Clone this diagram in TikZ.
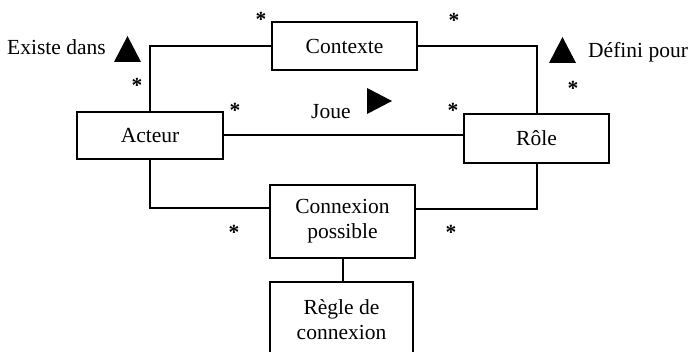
\documentclass[tikz,border=0pt]{standalone}
\usepackage{fontspec}
\setmainfont{Liberation Serif}
\usetikzlibrary{calc}
\begin{document}
\begin{tikzpicture}[x=1pt,y=-1pt,
  box/.style={draw=black,line width=2.1pt,fill=white,inner sep=2pt,align=center,
    font=\fontsize{21.5}{25}\selectfont},
  link/.style={draw=black,line width=2pt},
  lbl/.style={inner sep=0pt,font=\fontsize{21.5}{25}\selectfont},
  star/.style={inner sep=0pt,anchor=base,font=\fontsize{21.5}{25}\selectfont\bfseries}]
\useasboundingbox (0,0) rectangle (690,352);
\clip (0,0) rectangle (690,352);
% boxes
\node[box,minimum width=145pt,minimum height=48pt] (ctx) at (344.5,46) {Contexte};
\node[box,minimum width=146pt,minimum height=47pt] (act) at (150,135.5) {Acteur};
\node[box,minimum width=145pt,minimum height=49pt] (role) at (536.5,138.5) {Rôle};
\node[box,minimum width=145pt,minimum height=73pt] (cp) at (342.5,221.5) {Connexion\\possible};
\node[box,minimum width=143pt,minimum height=76pt] (rg) at (341.5,320) {Règle de\\connexion};
% connectors
\draw[link] (ctx.west) -| (act.north);
\draw[link] (ctx.east) -| (role.north);
\draw[link] (act.east) -- (act.east -| role.west);
\draw[link] (act.south) |- ($(cp.west)+(0,-13)$);
\draw[link] (role.south) |- ($(cp.east)+(0,-12)$);
\draw[link] (cp.south) -- (cp.south |- rg.north);
% labels
\node[lbl,anchor=base west] (l1) at (7,55) {Existe dans};
\node[lbl,anchor=base west] (l2) at (311,119) {Joue};
\node[lbl,anchor=base west] (l3) at (588,58) {Défini pour};
% triangles
\fill[black] (114,62) -- (127.5,36) -- (141,62) -- cycle;
\fill[black] (549,63) -- (562.5,37) -- (576,63) -- cycle;
\fill[black] (367,88) -- (392,101) -- (367,114) -- cycle;
% multiplicities
\node[star] (s1) at (261,27) {*};
\node[star] (s2) at (137,93) {*};
\node[star] (s3) at (235,118) {*};
\node[star] (s4) at (454,28) {*};
\node[star] (s5) at (453,118) {*};
\node[star] (s6) at (573,96) {*};
\node[star] (s7) at (234,240) {*};
\node[star] (s8) at (451,240) {*};
\end{tikzpicture}
\end{document}
